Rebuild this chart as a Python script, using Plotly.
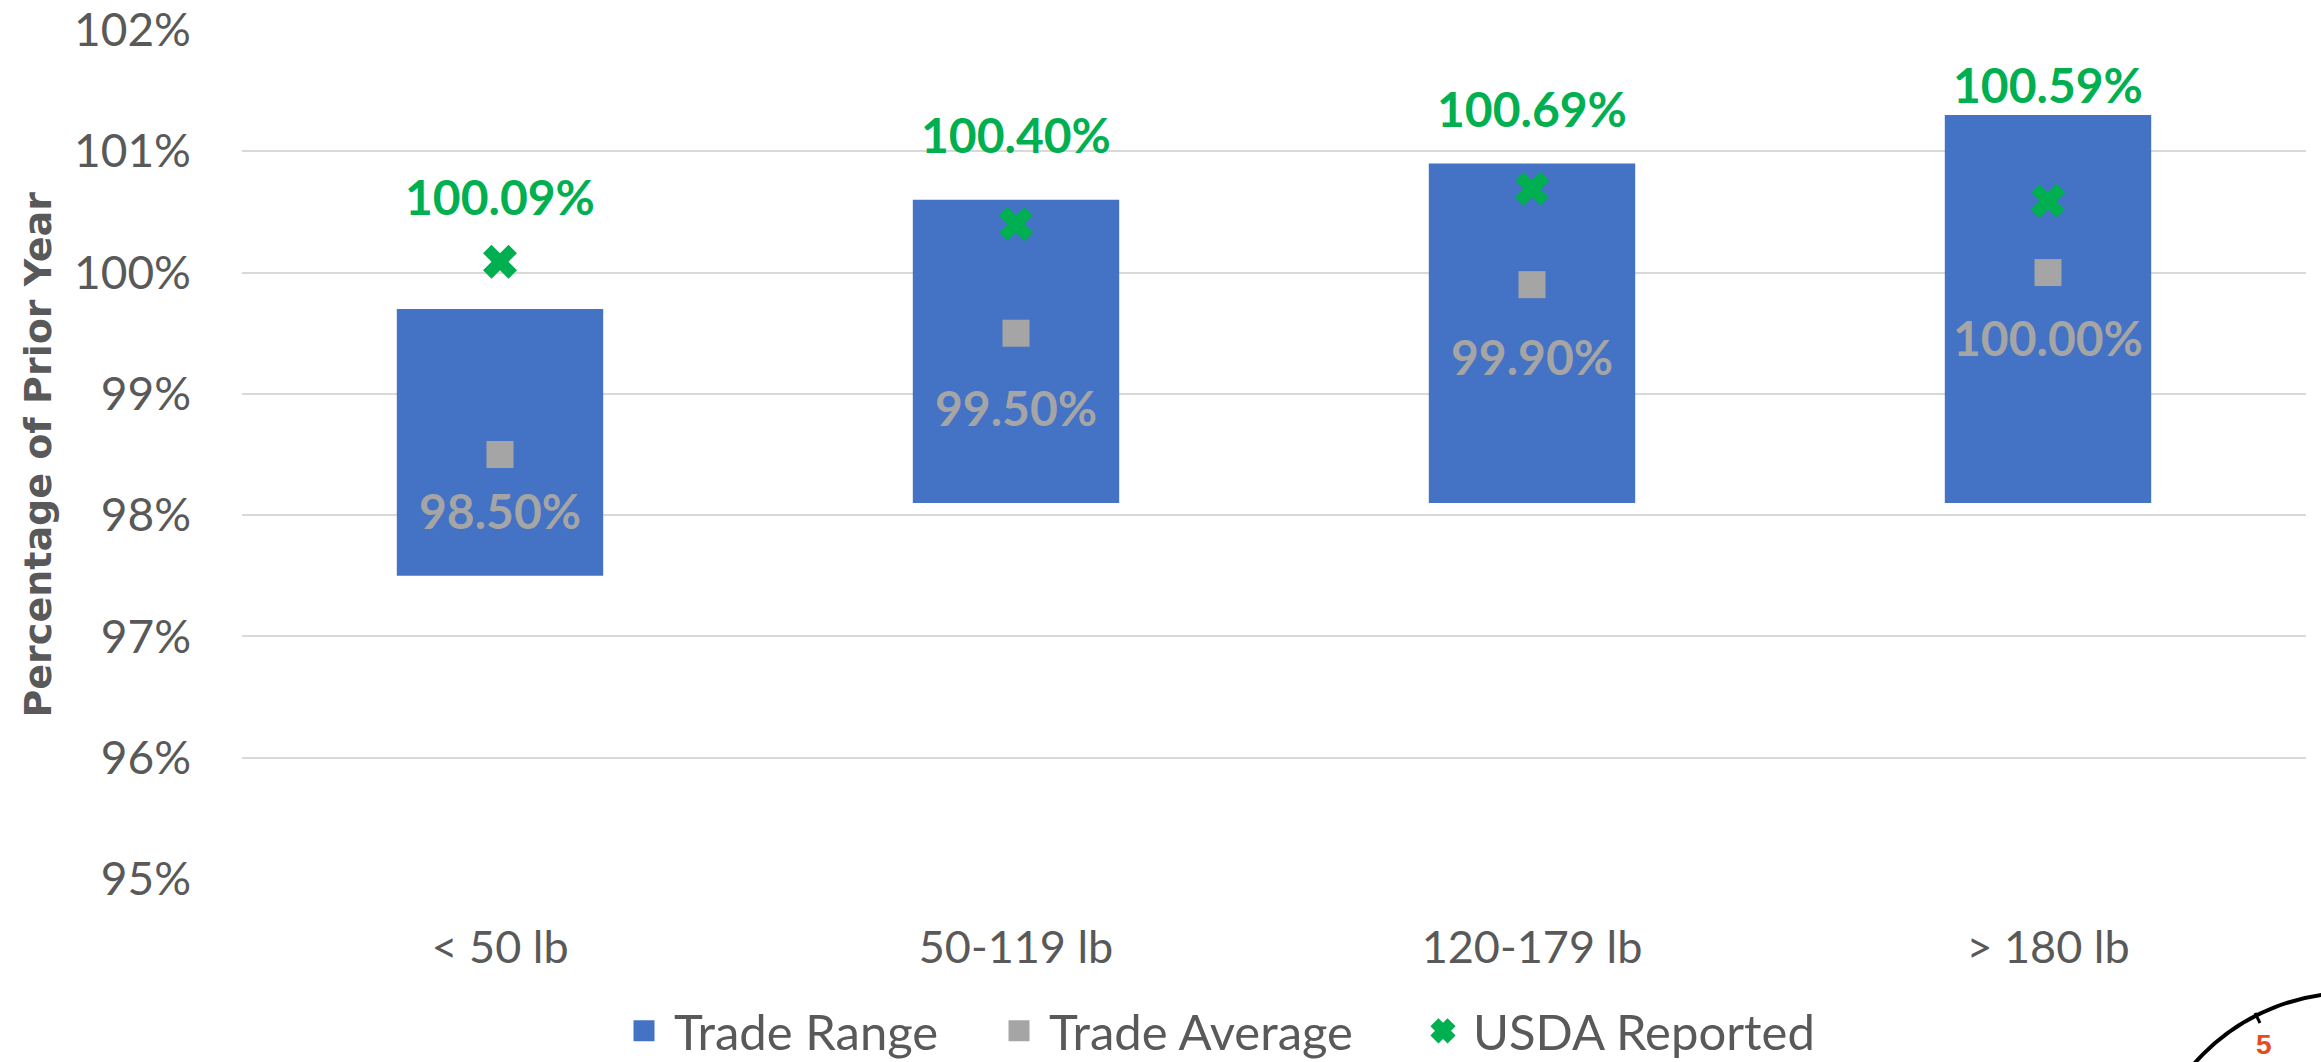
import plotly.graph_objects as go

# ---- data ----
categories = ["< 50 lb", "50-119 lb", "120-179 lb", "> 180 lb"]
range_low = [97.5, 98.1, 98.1, 98.1]
range_high = [99.7, 100.6, 100.9, 101.3]
trade_average = [98.50, 99.50, 99.90, 100.00]
usda_reported = [100.09, 100.40, 100.69, 100.59]
y_ticks = [95, 96, 97, 98, 99, 100, 101, 102]
y_tick_labels = ["95%", "96%", "97%", "98%", "99%", "100%", "101%", "102%"]
series_names = ["Trade Range", "Trade Average", "USDA Reported"]

# ---- style ----
BLUE = "#4472C4"
GRAY = "#A5A5A5"
GREEN = "#00B050"
TEXT = "#595959"
FONT = "Lato"
usda_label_shift = [65, 90, 80, 117]      # px above marker
avg_label_shift = [56, 74, 72, 65]        # px below marker
legend_left_px = [614, 989, 1413]         # left edge of each legend entry

W, H = 2321, 1062
L, R, T, B = 242, 15, 30, 183

fig = go.Figure()
fig.add_trace(go.Bar(
    x=categories,
    y=[h - l for h, l in zip(range_high, range_low)],
    base=range_low,
    width=0.4,
    marker=dict(color=BLUE, line=dict(width=0)),
    name=series_names[0], showlegend=False,
))
fig.add_trace(go.Scatter(
    x=categories, y=trade_average, mode="markers",
    marker=dict(symbol="square", size=27, color=GRAY),
    name=series_names[1], showlegend=False,
))
fig.add_trace(go.Scatter(
    x=categories, y=usda_reported, mode="markers",
    marker=dict(symbol="x", size=30, color=GREEN, line=dict(width=0)),
    name=series_names[2], showlegend=False,
))

pw = W - L - R
ph = H - T - B
def px_x(p):
    return (p - L) / pw
def px_y(p):
    return (H - B - p) / ph

# legend entries, one legend each so they can be spaced like the original
legend_ids = ["legend", "legend2", "legend3"]
for name, sym, col, lid in zip(series_names, ["square", "square", "x"],
                               [BLUE, GRAY, GREEN], legend_ids):
    fig.add_trace(go.Scatter(
        x=[None], y=[None], mode="markers", name=name, legend=lid,
        marker=dict(symbol=sym, size=16, color=col, line=dict(color=col, width=5)),
        showlegend=True,
    ))

annotations = []
for i, c in enumerate(categories):
    annotations.append(dict(
        x=c, y=usda_reported[i], xref="x", yref="y",
        text=f"<b>{usda_reported[i]:.2f}%</b>", showarrow=False,
        yshift=usda_label_shift[i], font=dict(family=FONT, size=48, color=GREEN),
    ))
    annotations.append(dict(
        x=c, y=trade_average[i], xref="x", yref="y",
        text=f"<b>{trade_average[i]:.2f}%</b>", showarrow=False,
        yshift=-avg_label_shift[i], font=dict(family=FONT, size=48, color=GRAY),
    ))

# y-axis title
annotations.append(dict(
    x=px_x(37), y=0.5, xref="paper", yref="paper", xanchor="center", yanchor="middle",
    textangle=-90, showarrow=False, text="<b>Percentage of Prior Year</b>",
    font=dict(family="DejaVu Sans", size=38, color=TEXT),
))

# decorative badge in the lower-right corner
annotations.append(dict(
    x=px_x(2264), y=px_y(1062), xref="paper", yref="paper",
    xanchor="center", yanchor="bottom", showarrow=False,
    text="<b>5</b>", font=dict(family="Liberation Sans", size=28, color="#E84A1C"),
))

legend_style = dict(
    orientation="h", xanchor="left",
    yref="container", y=1 - 1031 / H, yanchor="middle",
    font=dict(family=FONT, size=49, color=TEXT),
    itemwidth=50, bgcolor="rgba(0,0,0,0)",
)

fig.update_layout(
    width=W, height=H,
    margin=dict(l=L, r=R, t=T, b=B, autoexpand=False),
    paper_bgcolor="white", plot_bgcolor="white",
    font=dict(family=FONT, size=46, color=TEXT),
    showlegend=True,
    legend=dict(x=px_x(legend_left_px[0]), **legend_style),
    legend2=dict(x=px_x(legend_left_px[1]), **legend_style),
    legend3=dict(x=px_x(legend_left_px[2]), **legend_style),
    annotations=annotations,
    shapes=[
        dict(type="circle", xref="paper", yref="paper",
             x0=px_x(2143), x1=px_x(2557), y0=px_y(1407), y1=px_y(993),
             line=dict(color="black", width=4), fillcolor="rgba(0,0,0,0)", layer="above"),
        dict(type="line", xref="paper", yref="paper",
             x0=px_x(2255), x1=px_x(2260), y0=px_y(1013), y1=px_y(1023),
             line=dict(color="black", width=3), layer="above"),
    ],
    xaxis=dict(
        showgrid=False, showline=False, zeroline=False, ticks="",
        tickfont=dict(family=FONT, size=45, color=TEXT),
        ticklabelstandoff=38, automargin=False,
    ),
    yaxis=dict(
        range=[95, 102], tickvals=y_ticks, ticktext=y_tick_labels,
        showgrid=True, gridcolor="#D9D9D9", gridwidth=2,
        zeroline=False, showline=False, ticks="",
        tickfont=dict(family=FONT, size=46, color=TEXT),
        ticklabelstandoff=50, automargin=False, ticklabeloverflow="allow",
    ),
    bargap=0.6,
)

fig.write_html(
    "out.html",
    config={"displayModeBar": False},
    post_script="document.body.style.margin='0';document.body.style.overflow='hidden';",
)
